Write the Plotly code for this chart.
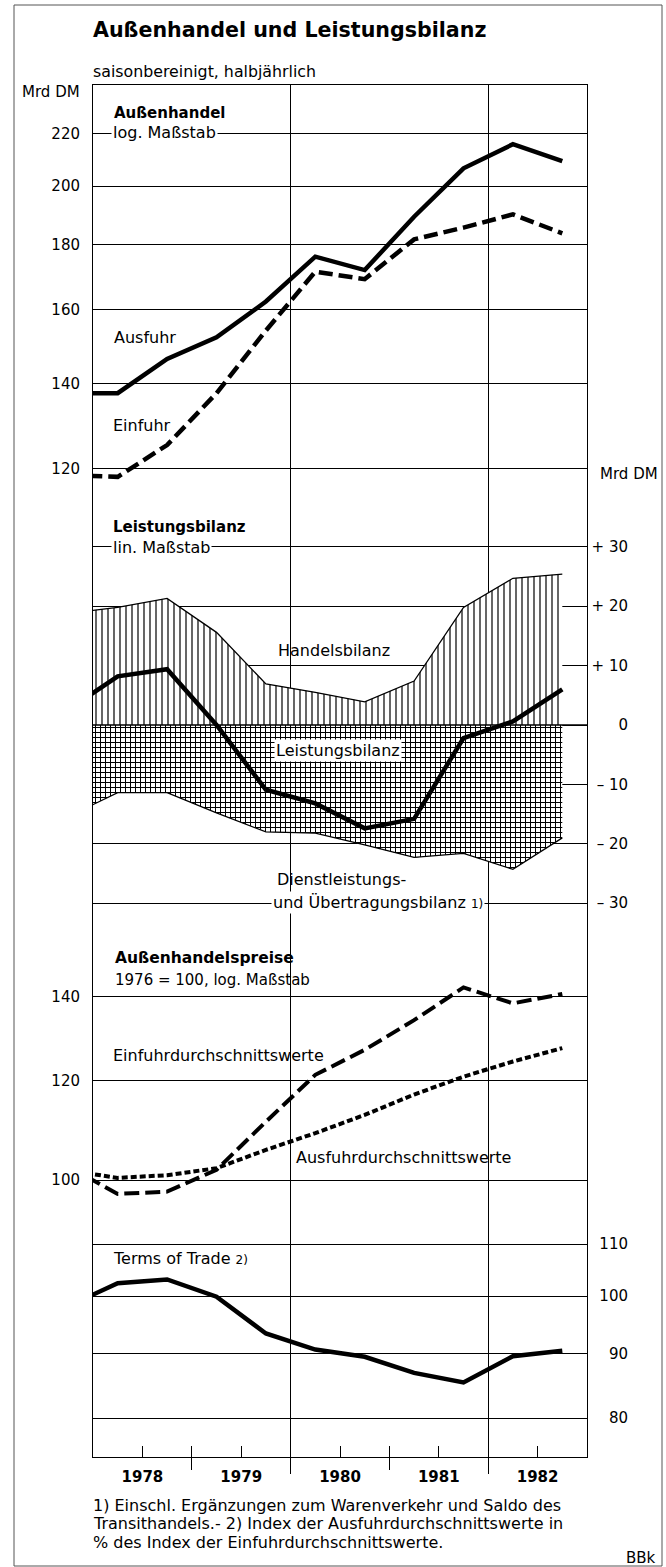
import numpy as np
import plotly.graph_objects as go

# ---------------- data (half-year values; first entry = 2nd half 1977) ----------------
periods = ["1977 H2", "1978 H1", "1978 H2", "1979 H1", "1979 H2", "1980 H1",
           "1980 H2", "1981 H1", "1981 H2", "1982 H1", "1982 H2"]

# Außenhandel, Mrd DM (log scale)
ausfuhr = [137.5, 137.5, 146.3, 152.1, 162.3, 176.0, 171.8, 189.2, 206.5, 215.7, 209.2]
einfuhr = [118.6, 118.2, 125.2, 137.5, 154.0, 171.3, 169.0, 181.6, 185.5, 190.0, 183.6]

# Leistungsbilanz, Mrd DM (linear scale)
handelsbilanz = [18.8, 19.8, 21.3, 15.6, 6.9, 5.5, 3.9, 7.4, 19.8, 24.7, 25.4]
dienstleistungsbilanz = [-15.4, -11.4, -11.4, -14.8, -18.0, -18.2, -20.2, -22.3, -21.6, -24.3, -19.0]
leistungsbilanz = [2.6, 8.2, 9.4, 0.0, -10.9, -13.2, -17.4, -15.8, -2.2, 0.6, 6.0]

# Außenhandelspreise, 1976 = 100 (log scale)
einfuhr_dw = [102.5, 97.5, 97.9, 101.9, 111.3, 121.3, 127.0, 134.1, 142.4, 138.3, 140.7]
ausfuhr_dw = [101.8, 100.4, 100.9, 102.2, 105.7, 109.0, 112.7, 117.0, 120.9, 124.3, 127.4]
terms_of_trade = [98.2, 102.4, 103.1, 99.9, 93.4, 90.7, 89.5, 86.9, 85.4, 89.6, 90.5]

years = [1978, 1979, 1980, 1981, 1982]
ticks_aussenhandel = [120, 140, 160, 180, 200, 220]
ticks_lb = [-30, -20, -10, 0, 10, 20, 30]
ticks_lb_text = ["\u2013 30", "\u2013 20", "\u2013 10", "0", "+ 10", "+ 20", "+ 30"]
ticks_preise = [100, 120, 140]
ticks_tot = [80, 90, 100, 110]


def period_mid(p):
    y, h = p.split(" H")
    return int(y) + (0.25 if h == "1" else 0.75)


x = [period_mid(p) for p in periods]

# ---------------- layout geometry (pixels) ----------------
W, H = 666, 1567
L, R = 93, 640            # plot area (paper) in px
TOP, BOT = 85, 1457
XR = 587                  # right edge of the chart frame
PW, PH = R - L, BOT - TOP
XD = (XR - L) / PW
FONT = "DejaVu Sans"


def px(v):
    return (v - L) / PW


def py(v):
    return (BOT - v) / PH


def log_range(val, at_px, scale, top_px, bot_px):
    hi = val * np.exp((at_px - top_px) / scale)
    lo = val * np.exp(-(bot_px - at_px) / scale)
    return [np.log10(lo), np.log10(hi)]


fig = go.Figure()

# dummy traces so the frame / overlay axes are drawn
fig.add_trace(go.Scatter(x=[1978, 1983], y=[0, 1], mode="markers", marker=dict(opacity=0),
                         hoverinfo="skip", showlegend=False, xaxis="x", yaxis="y"))
fig.add_trace(go.Scatter(x=[1978, 1983], y=[0, 1], mode="markers", marker=dict(opacity=0),
                         hoverinfo="skip", showlegend=False, xaxis="x2", yaxis="y"))

# Außenhandel
fig.add_trace(go.Scatter(x=x, y=ausfuhr, mode="lines", name="Ausfuhr",
                         line=dict(color="black", width=4.5), yaxis="y2"))
fig.add_trace(go.Scatter(x=x, y=einfuhr, mode="lines", name="Einfuhr",
                         line=dict(color="black", width=4.5, dash="14px,6px"), yaxis="y2"))

# Leistungsbilanz
fig.add_trace(go.Scatter(x=x, y=handelsbilanz, mode="lines", name="Handelsbilanz",
                         line=dict(color="black", width=1.3), fill="tozeroy",
                         fillpattern=dict(shape="|", bgcolor="white", fgcolor="black",
                                          size=6, solidity=0.2, fillmode="replace"),
                         yaxis="y3"))
fig.add_trace(go.Scatter(x=x, y=dienstleistungsbilanz, mode="lines",
                         name="Dienstleistungs- und Übertragungsbilanz",
                         line=dict(color="black", width=1.3), fill="tozeroy",
                         fillpattern=dict(shape="+", bgcolor="white", fgcolor="black",
                                          size=5, solidity=0.36, fillmode="replace"),
                         yaxis="y3"))
fig.add_trace(go.Scatter(x=x, y=leistungsbilanz, mode="lines", name="Leistungsbilanz",
                         line=dict(color="black", width=4.5), yaxis="y3"))

# Außenhandelspreise
fig.add_trace(go.Scatter(x=x, y=einfuhr_dw, mode="lines", name="Einfuhrdurchschnittswerte",
                         line=dict(color="black", width=4, dash="15px,6px"), yaxis="y4"))
fig.add_trace(go.Scatter(x=x, y=ausfuhr_dw, mode="lines", name="Ausfuhrdurchschnittswerte",
                         line=dict(color="black", width=4, dash="6px,3px"), yaxis="y4"))
fig.add_trace(go.Scatter(x=x, y=terms_of_trade, mode="lines", name="Terms of Trade",
                         line=dict(color="black", width=4.5), yaxis="y5"))

grid = dict(showgrid=True, gridcolor="black", gridwidth=1, zeroline=False,
            showline=False, ticks="", tickfont=dict(family=FONT, size=15, color="black"))

fig.update_layout(
    width=W, height=H,
    margin=dict(l=L, r=W - R, t=TOP, b=H - BOT, pad=0),
    paper_bgcolor="white", plot_bgcolor="rgba(0,0,0,0)",
    showlegend=False, hovermode=False,
    font=dict(family=FONT, color="black"),
    xaxis=dict(domain=[0, XD], range=[1978, 1983], anchor="y",
               showline=True, mirror=True, linecolor="black", linewidth=1.3,
               tickmode="array", tickvals=[yr + 0.5 for yr in years],
               ticktext=["<b>%d</b>" % yr for yr in years],
               ticks="", ticklabelstandoff=6,
               tickfont=dict(family=FONT, size=15, color="black"),
               showgrid=False, zeroline=False,
               minor=dict(tickmode="array", tickvals=[1980, 1982], ticks="outside",
                          ticklen=16, tickwidth=1, tickcolor="black",
                          showgrid=True, gridcolor="black", gridwidth=1)),
    xaxis2=dict(domain=[0, XD], range=[1978, 1983], anchor="y", overlaying="x",
                showline=False, showgrid=False, zeroline=False, showticklabels=False,
                tickmode="array", tickvals=[1979, 1981], ticks="outside", ticklen=12,
                tickwidth=1, tickcolor="black",
                minor=dict(tickmode="array",
                           tickvals=[1978.5, 1979, 1979.5, 1980.5, 1981, 1981.5, 1982.5],
                           ticks="inside", ticklen=11, tickwidth=1, tickcolor="black",
                           showgrid=False)),
    yaxis=dict(domain=[0, 1], range=[0, 1], anchor="x", showline=True, mirror=True,
               linecolor="black", linewidth=1.3, showgrid=False, zeroline=False,
               showticklabels=False, ticks=""),
    yaxis2=dict(domain=[py(490), 1], type="log",
                range=log_range(220, 133.3, 553, TOP, 490), anchor="x", side="left",
                tickmode="array", tickvals=ticks_aussenhandel,
                ticktext=[str(v) for v in ticks_aussenhandel], ticklabelstandoff=12, **grid),
    yaxis3=dict(domain=[py(912), py(540)],
                range=[-(912 - 725) / 5.94, (725 - 540) / 5.94],
                anchor="free", position=px(628), side="left",
                tickmode="array", tickvals=ticks_lb, ticktext=ticks_lb_text,
                ticklabelstandoff=0, **grid),
    yaxis4=dict(domain=[py(1215), py(935)], type="log",
                range=log_range(140, 996.7, 545, 935, 1215), anchor="x", side="left",
                tickmode="array", tickvals=ticks_preise,
                ticktext=[str(v) for v in ticks_preise], ticklabelstandoff=12, **grid),
    yaxis5=dict(domain=[0, py(1225)], type="log",
                range=log_range(110, 1244, 547, 1225, BOT),
                anchor="free", position=px(628), side="left",
                tickmode="array", tickvals=ticks_tot,
                ticktext=[str(v) for v in ticks_tot], ticklabelstandoff=0, **grid),
)

# zero line of the Leistungsbilanz panel (above the hatched areas)
fig.add_shape(type="line", xref="x domain", yref="y3", x0=0, x1=1, y0=0, y1=0,
              line=dict(color="black", width=1.3), layer="above")

# page border
fig.add_shape(type="rect", xref="paper", yref="paper",
              x0=px(14), x1=px(662), y0=py(1566), y1=py(5),
              line=dict(color="#555", width=1), layer="below")


def label(text, xpx, ypx, size=16, anchor="left", bg=None):
    fig.add_annotation(text=text, xref="paper", yref="paper", x=px(xpx), y=py(ypx),
                       xanchor=anchor, yanchor="middle", showarrow=False,
                       font=dict(family=FONT, size=size, color="black"),
                       bgcolor=bg if bg else "rgba(0,0,0,0)", borderpad=1)


label("<b>Außenhandel und Leistungsbilanz</b>", 91, 30, size=20.6)
label("saisonbereinigt, halbjährlich", 91, 71, size=15.8)
label("Mrd DM", 82, 92, size=15, anchor="right")
label("<b>Außenhandel</b>", 112, 112.5, size=15)
label("log. Maßstab", 111, 133, size=16, bg="white")
label("Ausfuhr", 112, 337)
label("Einfuhr", 111, 426)
label("Mrd DM", 598, 474, size=15)
label("<b>Leistungsbilanz</b>", 111, 526.5, size=15)
label("lin. Maßstab", 111, 547, size=16, bg="white")
label("Handelsbilanz", 276, 650)
label("Leistungsbilanz", 274, 750, bg="white")
label("Dienstleistungs-", 275, 879)
label("und Übertragungsbilanz <span style='font-size:12px'>1)</span>", 271, 902, bg="white")
label("<b>Außenhandelspreise</b>", 113, 958, size=15.5)
label("1976 = 100, log. Maßstab", 113, 980, size=15)
label("Einfuhrdurchschnittswerte", 111, 1055)
label("Ausfuhrdurchschnittswerte", 294, 1157)
label("Terms of Trade <span style='font-size:12px'>2)</span>", 111, 1258)
label("1) Einschl. Ergänzungen zum Warenverkehr und Saldo des", 91, 1505)
label("Transithandels.- 2) Index der Ausfuhrdurchschnittswerte in", 91, 1523)
label("% des Index der Einfuhrdurchschnittswerte.", 91, 1542)
label("BBk", 658, 1558, size=15, anchor="right")

fig.write_html("out.html",
               config={"displayModeBar": False, "staticPlot": True},
               post_script="document.body.style.margin='0';"
                           "document.body.style.overflow='hidden';")
